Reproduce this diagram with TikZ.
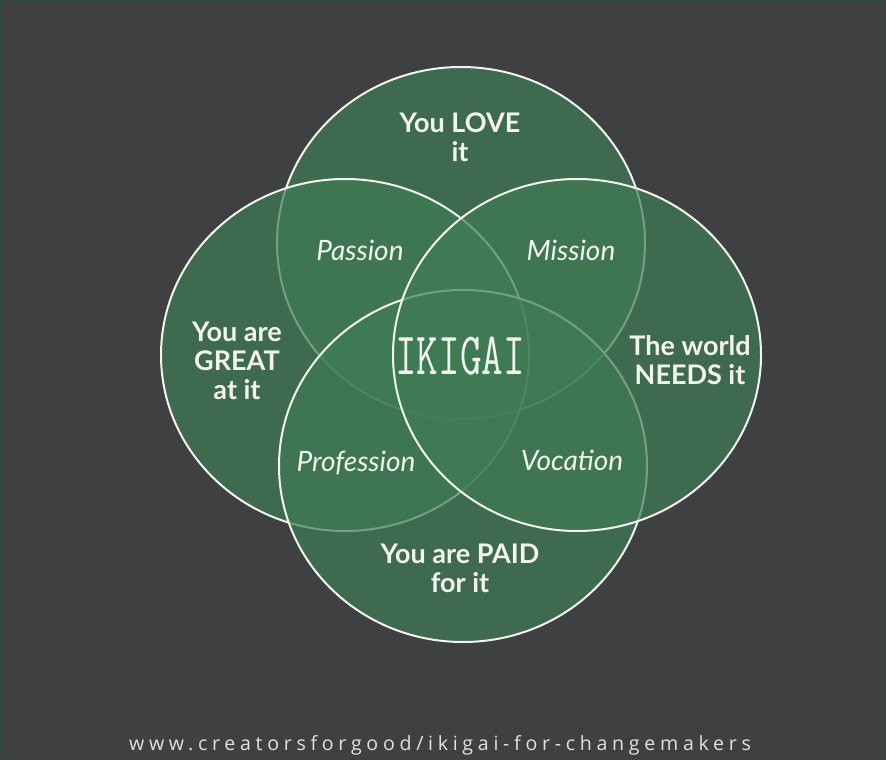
\documentclass[tikz,border=0pt]{standalone}
\usepackage{fontspec}
\setmainfont{Lato}
\newfontfamily\urlfont[LetterSpace=24]{Open Sans}
\definecolor{board}{RGB}{63,64,66}
\definecolor{leaf}{RGB}{62,124,86}
\definecolor{chalk}{RGB}{244,244,238}
\definecolor{edge}{RGB}{46,74,58}

\begin{document}
\begin{tikzpicture}[x=0.5pt,y=0.5pt,
  ring/.style={draw=chalk,line width=1pt,fill=leaf,fill opacity=0.7},
  big/.style={text=chalk,font=\fontsize{13.5}{14.5}\selectfont\bfseries,align=center,anchor=base,inner sep=0pt},
  hand/.style={text=chalk,font=\fontsize{14}{15}\selectfont\itshape,anchor=base,inner sep=0pt}]
  \fill[board] (0,0) rectangle (886,760);
  \draw[edge] (0.5,0.5) rectangle (885.5,759.5);
  \useasboundingbox (0,0) rectangle (886,760);

  % the four circles, drawn in this order so the later ones veil older lines
  \coordinate (c-love) at (461,517);
  \coordinate (c-great) at (345,405);
  \coordinate (c-paid) at (463,294);
  \coordinate (c-needs) at (577,405);
  \draw[ring] (c-love) ellipse [x radius=184,y radius=176];
  \draw[ring] (c-great) ellipse [x radius=184,y radius=176];
  \draw[ring] (c-paid) ellipse [x radius=184,y radius=176];
  \draw[ring] (c-needs) ellipse [x radius=184,y radius=176];

  % base anchor sits on the last line
  \node[big] (love) at (460,598) {You LOVE\\it};
  \node[big] (great) at (237,360) {You are\\GREAT\\at it};
  \node[big] (needs) at (690,375) {The world\\NEEDS it};
  \node[big] (paid) at (460,168) {You are PAID\\for it};

  \node[hand] (passion) at (360,499) {Passion};
  \node[hand] (mission) at (571,499) {Mission};
  \node[hand] (profession) at (356,289) {Profession};
  \node[hand] (vocation) at (572,290) {Vocation};

  \node[text=chalk,anchor=base,inner sep=0pt] (ikigai) at (460,385)
   {\scalebox{0.7}[1]{\fontsize{30}{30}\selectfont\ttfamily IKIGAI}};

  \node[text=chalk!90!board,anchor=base,inner sep=0pt] (url) at (440,10)
   {\urlfont\fontsize{9.8}{10}\selectfont www.creatorsforgood/ikigai-for-changemakers};
\end{tikzpicture}
\end{document}
